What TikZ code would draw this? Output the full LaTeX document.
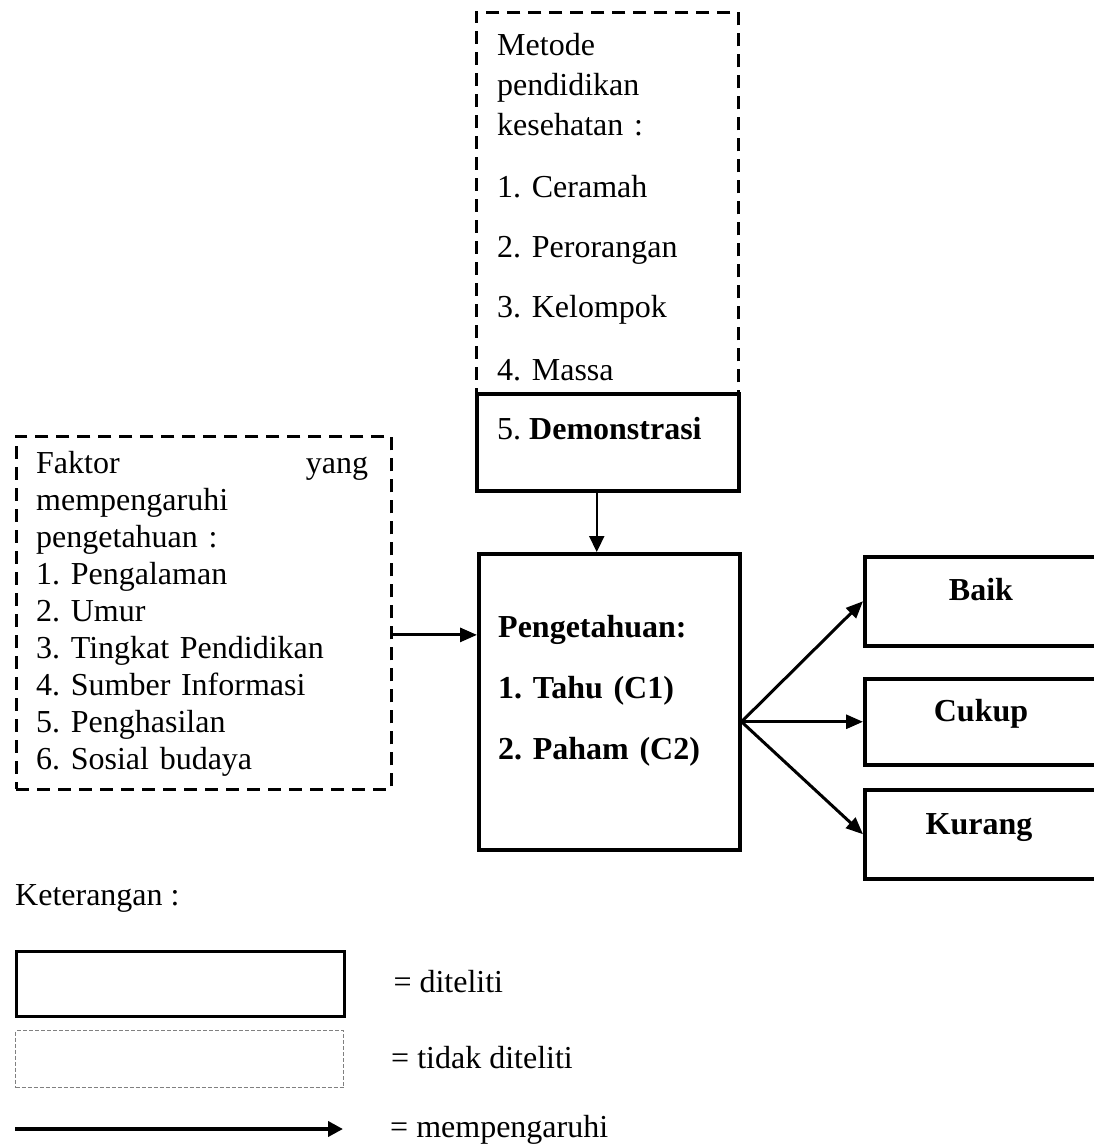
\documentclass[tikz,border=0pt]{standalone}
\usepackage{fontspec}
\setmainfont{Liberation Serif}
\usetikzlibrary{arrows.meta}
\frenchspacing

\begin{document}
\begin{tikzpicture}[x=1pt, y=-1pt, font=\fontsize{32}{37}\selectfont,
    solidbox/.style={draw, line width=3.5pt, inner sep=0pt, fill=white, anchor=north west},
    dashbox/.style={draw, line width=2.8pt, dash pattern=on 13pt off 8pt, inner sep=0pt, anchor=north west},
    txt/.style={inner sep=0pt, anchor=base west, align=left},
    lbl/.style={inner sep=0pt, anchor=base, font=\fontsize{32}{37}\selectfont\bfseries},
    arr/.style={->, >={Triangle[length=17pt,width=14pt]}, line width=3pt}]
  \useasboundingbox (0,0) rectangle (1093,1146);

  % boxes
  \node[dashbox, minimum width=262pt, minimum height=381pt] (metode) at (475,11) {};
  \node[solidbox, minimum width=262pt, minimum height=97pt] (demo) at (475,392) {};
  \node[solidbox, minimum width=261pt, minimum height=296pt] (penget) at (477,552) {};
  \node[dashbox, minimum width=375pt, minimum height=353pt] (faktor) at (15,435) {};
  \node[solidbox, minimum width=260pt, minimum height=89pt] (baik) at (863,555) {};
  \node[solidbox, minimum width=260pt, minimum height=86pt] (cukup) at (863,677) {};
  \node[solidbox, minimum width=260pt, minimum height=89pt] (kurang) at (863,788) {};

  % texts
  \node[txt, text width=220pt, font=\fontsize{32}{40}\selectfont] (metodetxt)
    at ([xshift=22pt, yshift=-44pt]metode.north west)
    {Metode\\ pendidikan\\ kesehatan :\\[22pt] 1. Ceramah\\[20pt] 2. Perorangan\\[20pt]
     3. Kelompok\\[23pt] 4. Massa};
  \node[txt] (demotxt) at ([xshift=22pt, yshift=-47pt]demo.north west) {5. \textbf{Demonstrasi}};
  \node[txt, text width=220pt, font=\fontsize{32}{37}\selectfont\bfseries] (pengettxt)
    at ([xshift=21pt, yshift=-85pt]penget.north west)
    {Pengetahuan:\\[24pt] 1. Tahu (C1)\\[24pt] 2. Paham (C2)};
  \node[txt, text width=332pt] (faktortxt) at ([xshift=21pt, yshift=-38pt]faktor.north west)
    {Faktor\hskip 0pt plus 1filll yang\\ mempengaruhi\\ pengetahuan :\\ 1. Pengalaman\\ 2. Umur\\
     3. Tingkat Pendidikan\\ 4. Sumber Informasi\\ 5. Penghasilan\\ 6. Sosial budaya};
  \node[lbl] (baiktxt) at ([xshift=118pt, yshift=1pt]baik.west) {Baik};
  \node[lbl] (cukuptxt) at ([xshift=118pt]cukup.west) {Cukup};
  \node[lbl] (kurangtxt) at ([xshift=116pt]kurang.west) {Kurang};

  % arrows
  \draw[arr] ([yshift=-22pt]faktor.east) -- ([yshift=-22pt]faktor.east -| penget.west);
  \draw[arr, line width=2.2pt, >={Triangle[length=16pt,width=15pt]}]
    ([xshift=-11pt]demo.south) -- ([xshift=-11pt]demo.south |- penget.north);
  \coordinate (hub) at ([yshift=-20pt]penget.east);
  \draw[arr] (hub) -- (baik.west);
  \draw[arr] (hub) -- (cukup.west);
  \draw[arr] (hub) -- (kurang.west);

  % legend
  \node[txt] (ket) at (15,905) {Keterangan :};
  \node[solidbox, line width=3.3pt, minimum width=328pt, minimum height=65pt] (legsolid) at (15,950) {};
  \node[draw=gray, line width=1pt, dash pattern=on 4pt off 2pt, inner sep=0pt, anchor=north west,
    minimum width=328pt, minimum height=57pt] (legdash) at (15,1030) {};
  \coordinate (legA) at (15,1129);
  \coordinate (legB) at (343,1129);
  \draw[arr, line width=4pt, >={Triangle[length=15pt,width=15pt]}] (legA) -- (legB);
  \node[txt] (legsolidtxt) at ([xshift=47pt, yshift=-8pt]legsolid.east) {= diteliti};
  \node[txt] (legdashtxt) at ([xshift=47pt, yshift=-9pt]legdash.east) {= tidak diteliti};
  \node[txt] (legarrtxt) at ([xshift=47pt, yshift=-8pt]legB) {= mempengaruhi};
\end{tikzpicture}
\end{document}
